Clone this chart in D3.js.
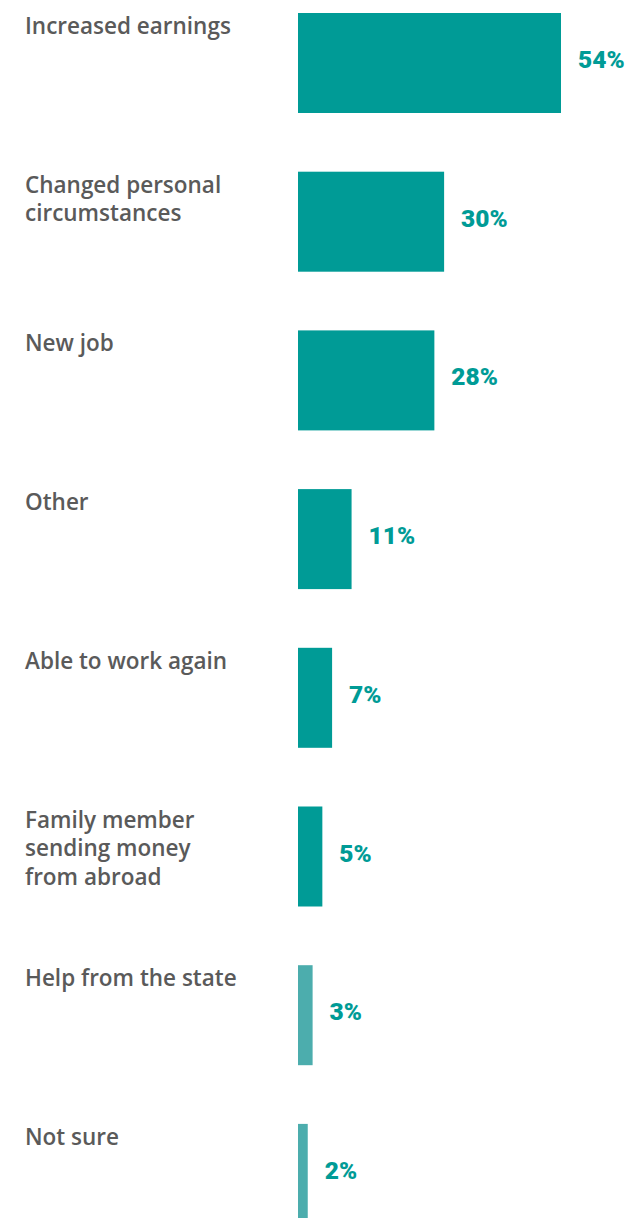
<!DOCTYPE html>
<html>
<head>
<meta charset="utf-8">
<script src="https://cdn.jsdelivr.net/npm/d3@7"></script>
<style>
  html, body { margin: 0; padding: 0; background: #ffffff; }
  svg { display: block; }
</style>
</head>
<body>
<svg id="chart" width="627" height="1218"></svg>
<script>
// Reasons given, share of respondents (%)
const categories = [
  "Increased earnings",
  "Changed personal\ncircumstances",
  "New job",
  "Other",
  "Able to work again",
  "Family member\nsending money\nfrom abroad",
  "Help from the state",
  "Not sure"
];
const values = [54, 30, 28, 11, 7, 5, 3, 2];

// Reasons shown in the lighter tint
const lighterCategories = ["Help from the state", "Not sure"];

const barLeft = 298;
const rowStep = 158.7, barH = 100, firstBarTop = 13;
const pad = (rowStep - barH) / rowStep;

const svg = d3.select("#chart");

const y = d3.scaleBand()
  .domain(categories)
  .range([firstBarTop, firstBarTop + rowStep * (categories.length - pad)])
  .paddingInner(pad)
  .paddingOuter(0);

const x = d3.scaleLinear()
  .domain([0, 54])
  .range([barLeft, 561]);

const data = categories.map((c, i) => ({ cat: c, value: values[i] }));

const color = d => lighterCategories.includes(d.cat) ? "#4cadad" : "#009b96";

// Bars
svg.append("g")
  .selectAll("rect")
  .data(data)
  .join("rect")
  .attr("x", x(0))
  .attr("y", d => y(d.cat))
  .attr("width", d => x(d.value) - x(0))
  .attr("height", y.bandwidth())
  .attr("fill", color);

// Category labels
const labels = svg.append("g")
  .selectAll("text")
  .data(data)
  .join("text")
  .attr("x", 25)
  .attr("y", d => y(d.cat) + 21)
  .attr("fill", "#5a5a5a")
  .style("font-family", "'Open Sans', 'Noto Sans', sans-serif")
  .style("font-weight", 600)
  .style("font-size", "22.5px");

labels.selectAll("tspan")
  .data(d => d.cat.split("\n"))
  .join("tspan")
  .attr("x", 25)
  .attr("dy", (d, i) => i === 0 ? 0 : 28.5)
  .text(d => d);

// Value labels
svg.append("g")
  .selectAll("text")
  .data(data)
  .join("text")
  .attr("x", d => x(d.value) + 17)
  .attr("y", d => y(d.cat) + y.bandwidth() / 2 + 5)
  .attr("fill", "#009b96")
  .style("font-family", "Roboto, 'Noto Sans', sans-serif")
  .style("font-weight", 900)
  .style("font-size", "24.5px")
  .text(d => d.value + "%");
</script>
</body>
</html>
